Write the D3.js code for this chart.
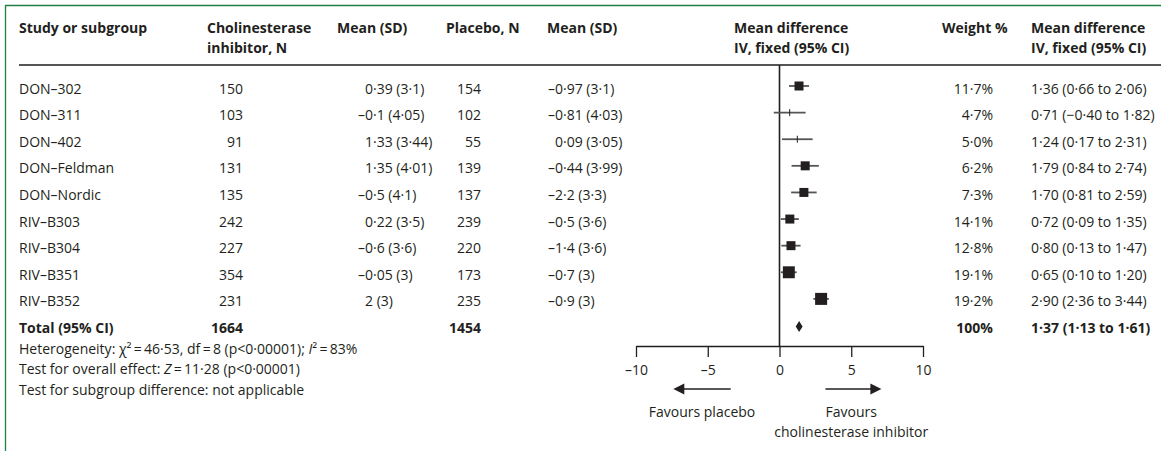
<!DOCTYPE html>
<html>
<head>
<meta charset="utf-8">
<script src="https://cdn.jsdelivr.net/npm/d3@7"></script>
<style>
  body { margin: 0; background: #fff; }
  text { font-family: "Open Sans", sans-serif; font-size: 14px; fill: #231f20; }
  .bold { font-weight: bold; }
</style>
</head>
<body>
<script>
// Data
const studies = ["DON–302", "DON–311", "DON–402", "DON–Feldman", "DON–Nordic",
                 "RIV–B303", "RIV–B304", "RIV–B351", "RIV–B352"];
const cheiN = [150, 103, 91, 131, 135, 242, 227, 354, 231];
const cheiMean = [0.39, -0.1, 1.33, 1.35, -0.5, 0.22, -0.6, -0.05, 2];
const cheiSD = [3.1, 4.05, 3.44, 4.01, 4.1, 3.5, 3.6, 3, 3];
const placN = [154, 102, 55, 139, 137, 239, 220, 173, 235];
const placMean = [-0.97, -0.81, 0.09, -0.44, -2.2, -0.5, -1.4, -0.7, -0.9];
const placSD = [3.1, 4.03, 3.05, 3.99, 3.3, 3.6, 3.6, 3, 3];
const weights = [11.7, 4.7, 5.0, 6.2, 7.3, 14.1, 12.8, 19.1, 19.2];
const md = [1.36, 0.71, 1.24, 1.79, 1.70, 0.72, 0.80, 0.65, 2.90];
const mdLo = [0.66, -0.40, 0.17, 0.84, 0.81, 0.09, 0.13, 0.10, 2.36];
const mdHi = [2.06, 1.82, 2.31, 2.74, 2.59, 1.35, 1.47, 1.20, 3.44];
const total = { n1: 1664, n2: 1454, md: 1.37, lo: 1.13, hi: 1.61 };
const axisTicks = [-10, -5, 0, 5, 10];
// *x* marks italic
const footnotes = [
  "Heterogeneity: χ²\u2009=\u200946·53, df\u2009=\u20098 (p<0·00001); *I*²\u2009=\u200983%",
  "Test for overall effect: *Z*\u2009=\u200911·28 (p<0·00001)",
  "Test for subgroup difference: not applicable"
];

const width = 1166, height = 451;
const ink = "#231f20";

const svg = d3.select("body").append("svg")
  .attr("width", width)
  .attr("height", height);

// green frame
svg.append("path")
  .attr("d", "M5.5,451V5.5H1161")
  .attr("fill", "none")
  .attr("stroke", "#1f7f45")
  .attr("stroke-width", 1.3);

// number formatting in Lancet style
const dot = s => s.replace(/\./g, "·").replace(/-/g, "–");
const f2 = d3.format(".2f");
const plain = v => dot(String(Math.abs(v)));

// header
const header = svg.append("g");
function head(x, lines) {
  const t = header.append("text").attr("class", "bold").attr("x", x).attr("y", 33);
  lines.forEach((l, i) => t.append("tspan").attr("x", x).attr("dy", i ? 20 : 0).text(l));
}
head(19, ["Study or subgroup"]);
head(207, ["Cholinesterase", "inhibitor, N"]);
head(337, ["Mean (SD)"]);
head(446, ["Placebo, N"]);
head(547, ["Mean (SD)"]);
head(734, ["Mean difference", "IV, fixed (95% CI)"]);
head(942, ["Weight %"]);
head(1031, ["Mean difference", "IV, fixed (95% CI)"]);

svg.append("line")
  .attr("x1", 19).attr("x2", 1161)
  .attr("y1", 65).attr("y2", 65)
  .attr("stroke", "#555").attr("stroke-width", 2);

// row positions (index 9 = total)
const y = d3.scaleLinear().domain([0, 9]).range([93.5, 333]);

const rows = svg.append("g")
  .selectAll("g")
  .data(studies.map((s, i) => ({ s, i })))
  .join("g");

rows.append("text").attr("x", 19).attr("y", d => y(d.i)).text(d => d.s);
rows.append("text").attr("x", 243).attr("y", d => y(d.i))
  .attr("text-anchor", "end").text(d => cheiN[d.i]);
rows.append("text").attr("x", 481).attr("y", d => y(d.i))
  .attr("text-anchor", "end").text(d => placN[d.i]);

// mean (SD) with hanging minus
function meanCol(x, means, sds) {
  rows.append("text").attr("x", x).attr("y", d => y(d.i))
    .text(d => `${plain(means[d.i])} (${dot(String(sds[d.i]))})`);
  rows.filter(d => means[d.i] < 0).append("text")
    .attr("x", x).attr("y", d => y(d.i))
    .attr("text-anchor", "end").text("–");
}
meanCol(365, cheiMean, cheiSD);
meanCol(555, placMean, placSD);

rows.append("text").attr("x", 993).attr("y", d => y(d.i))
  .attr("text-anchor", "end").text(d => dot(weights[d.i].toFixed(1)) + "%");
rows.append("text").attr("x", 1031).attr("y", d => y(d.i))
  .text(d => `${dot(f2(md[d.i]))} (${dot(f2(mdLo[d.i]))} to ${dot(f2(mdHi[d.i]))})`);

// total row
const tot = svg.append("g");
tot.append("text").attr("class", "bold").attr("x", 19).attr("y", y(9)).text("Total (95% CI)");
tot.append("text").attr("class", "bold").attr("x", 243).attr("y", y(9))
  .attr("text-anchor", "end").text(total.n1);
tot.append("text").attr("class", "bold").attr("x", 481).attr("y", y(9))
  .attr("text-anchor", "end").text(total.n2);
tot.append("text").attr("class", "bold").attr("x", 993).attr("y", y(9))
  .attr("text-anchor", "end").text("100%");
tot.append("text").attr("class", "bold").attr("x", 1031).attr("y", y(9))
  .text(`${dot(f2(total.md))} (${dot(f2(total.lo))} to ${dot(f2(total.hi))})`);

// footnotes, with italic pieces
svg.append("g").selectAll("text")
  .data(footnotes)
  .join("text")
  .attr("x", 19)
  .attr("y", (d, i) => 353.5 + i * 20.5)
  .each(function(d) {
    const t = d3.select(this);
    d.split(/(\*[^*]+\*)/).filter(p => p).forEach(p => {
      if (p[0] === "*") t.append("tspan").style("font-style", "italic").text(p.slice(1, -1));
      else t.append("tspan").text(p);
    });
  });

// forest plot
const x = d3.scaleLinear().domain([-10, 10]).range([636, 923]);
const axisY = 346;
const box = d3.scaleLinear().domain([5, 6, 15, 19.2]).range([1, 9, 9, 12]).clamp(true);
const mid = i => y(i) - 7.5;

svg.append("line")
  .attr("x1", x(0)).attr("x2", x(0))
  .attr("y1", 65).attr("y2", axisY)
  .attr("stroke", ink).attr("stroke-width", 1.6);

const plot = svg.append("g");
plot.selectAll("line.ci")
  .data(studies.map((s, i) => i))
  .join("line")
  .attr("class", "ci")
  .attr("x1", i => x(mdLo[i])).attr("x2", i => x(mdHi[i]))
  .attr("y1", mid).attr("y2", mid)
  .attr("stroke", "#555").attr("stroke-width", 1.8);

plot.selectAll("rect.est")
  .data(studies.map((s, i) => i))
  .join("rect")
  .attr("class", "est")
  .attr("x", i => x(md[i]) - box(weights[i]) / 2)
  .attr("y", i => mid(i) - Math.max(box(weights[i]), 7) / 2)
  .attr("width", i => box(weights[i]))
  .attr("height", i => Math.max(box(weights[i]), 7))
  .attr("fill", ink);

// pooled diamond
const dy = mid(9) + 1;
plot.append("path")
  .attr("d", `M${x(total.lo)},${dy}L${x(total.md)},${dy - 5.5}L${x(total.hi)},${dy}L${x(total.md)},${dy + 5.5}Z`)
  .attr("fill", ink);

// axis
const axis = svg.append("g")
  .attr("transform", `translate(0,${axisY})`)
  .call(d3.axisBottom(x).tickValues(axisTicks).tickSize(11).tickSizeOuter(0).tickPadding(8)
    .tickFormat(d => d < 0 ? "–" + Math.abs(d) : d));
axis.select(".domain").attr("stroke", ink).attr("stroke-width", 1.3);
axis.selectAll(".tick line").attr("stroke", ink).attr("stroke-width", 1.3);
axis.selectAll(".tick text")
  .attr("fill", ink)
  .style("font-family", '"Open Sans", sans-serif')
  .style("font-size", "14px");

// favours arrows
function arrow(from, to) {
  const ay = 389, x0 = x(from), x1 = x(to), dir = Math.sign(x1 - x0);
  svg.append("line")
    .attr("x1", x0).attr("x2", x1 - dir * 9)
    .attr("y1", ay).attr("y2", ay)
    .attr("stroke", ink).attr("stroke-width", 1.5);
  svg.append("path")
    .attr("d", `M${x1},${ay}L${x1 - dir * 11},${ay - 5.5}L${x1 - dir * 11},${ay + 5.5}Z`)
    .attr("fill", ink);
}
arrow(-3.4, -7.4);
arrow(3.2, 7.1);

svg.append("text").attr("x", x(-5.4)).attr("y", 417)
  .attr("text-anchor", "middle").text("Favours placebo");
svg.append("text").attr("x", x(5)).attr("y", 417)
  .attr("text-anchor", "middle").text("Favours");
svg.append("text").attr("x", x(5)).attr("y", 437)
  .attr("text-anchor", "middle").text("cholinesterase inhibitor");
</script>
</body>
</html>
